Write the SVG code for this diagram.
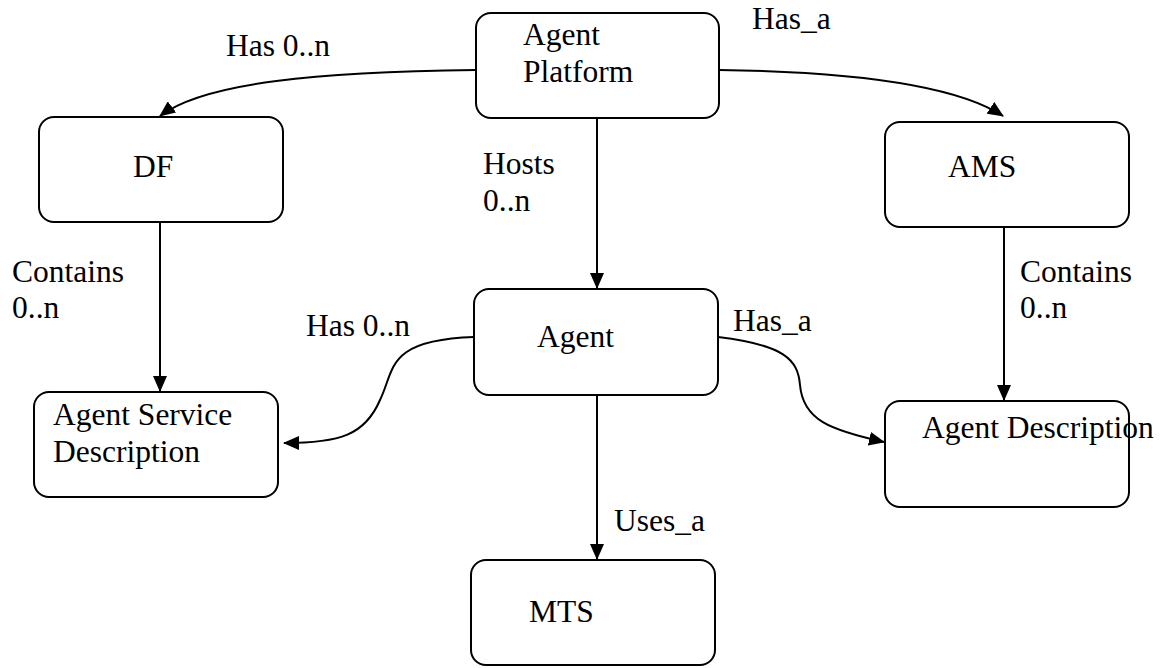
<svg xmlns="http://www.w3.org/2000/svg" width="1166" height="668" viewBox="0 0 1166 668">
  <style>
    .box { fill: #ffffff; stroke: #000000; stroke-width: 2; }
    .lbl { font-family: "Liberation Serif", "Times New Roman", serif; font-size: 31.5px; fill: #000000; }
    .edge { fill: none; stroke: #000000; stroke-width: 2; }
  </style>
  <defs>
    <marker id="arrow" markerWidth="16" markerHeight="14" refX="15" refY="7" orient="auto" markerUnits="userSpaceOnUse">
      <path d="M0,0 L16,7 L0,14 Z" fill="#000000"/>
    </marker>
  </defs>

  <rect width="1166" height="668" fill="#ffffff"/>

  <!-- connectors -->
  <g id="connectors">
    <path class="edge" d="M476,70 C 320,72 205,82 160,116" marker-end="url(#arrow)"/>
    <path class="edge" d="M719,70 C 870,72 960,88 1003,116" marker-end="url(#arrow)"/>
    <path class="edge" d="M597,118 L597,288" marker-end="url(#arrow)"/>
    <path class="edge" d="M160,222 L160,391" marker-end="url(#arrow)"/>
    <path class="edge" d="M1004,227 L1004,400" marker-end="url(#arrow)"/>
    <path class="edge" d="M474,337 C 385,340 395,370 380,400 C 365,435 340,443 284,443" marker-end="url(#arrow)"/>
    <path class="edge" d="M718,337 C 785,345 798,360 800,385 C 803,420 830,430 884,442" marker-end="url(#arrow)"/>
    <path class="edge" d="M597,395 L597,559" marker-end="url(#arrow)"/>

    <text class="lbl" x="226" y="56">Has 0..n</text>
    <text class="lbl" x="752" y="29">Has_a</text>
    <text class="lbl" x="483" y="174">Hosts</text>
    <text class="lbl" x="483" y="211">0..n</text>
    <text class="lbl" x="12" y="282">Contains</text>
    <text class="lbl" x="12" y="318">0..n</text>
    <text class="lbl" x="1020" y="282">Contains</text>
    <text class="lbl" x="1020" y="318">0..n</text>
    <text class="lbl" x="306" y="336">Has 0..n</text>
    <text class="lbl" x="733" y="331">Has_a</text>
    <text class="lbl" x="614" y="531">Uses_a</text>
  </g>

  <!-- nodes -->
  <g id="agent-platform">
    <rect class="box" x="476" y="13" width="243" height="105" rx="15"/>
    <text class="lbl" x="523" y="45">Agent</text>
    <text class="lbl" x="523" y="82">Platform</text>
  </g>
  <g id="df">
    <rect class="box" x="39" y="117" width="244" height="105" rx="15"/>
    <text class="lbl" x="133" y="177">DF</text>
  </g>
  <g id="ams">
    <rect class="box" x="885" y="122" width="244" height="105" rx="15"/>
    <text class="lbl" x="948" y="177">AMS</text>
  </g>
  <g id="agent">
    <rect class="box" x="474" y="289" width="244" height="106" rx="15"/>
    <text class="lbl" x="537" y="347">Agent</text>
  </g>
  <g id="agent-service-description">
    <rect class="box" x="34" y="392" width="244" height="105" rx="15"/>
    <text class="lbl" x="53" y="425">Agent Service</text>
    <text class="lbl" x="53" y="462">Description</text>
  </g>
  <g id="agent-description">
    <rect class="box" x="885" y="401" width="244" height="106" rx="15"/>
    <text class="lbl" x="922" y="438">Agent Description</text>
  </g>
  <g id="mts">
    <rect class="box" x="471" y="560" width="244" height="105" rx="15"/>
    <text class="lbl" x="529" y="622">MTS</text>
  </g>
</svg>
